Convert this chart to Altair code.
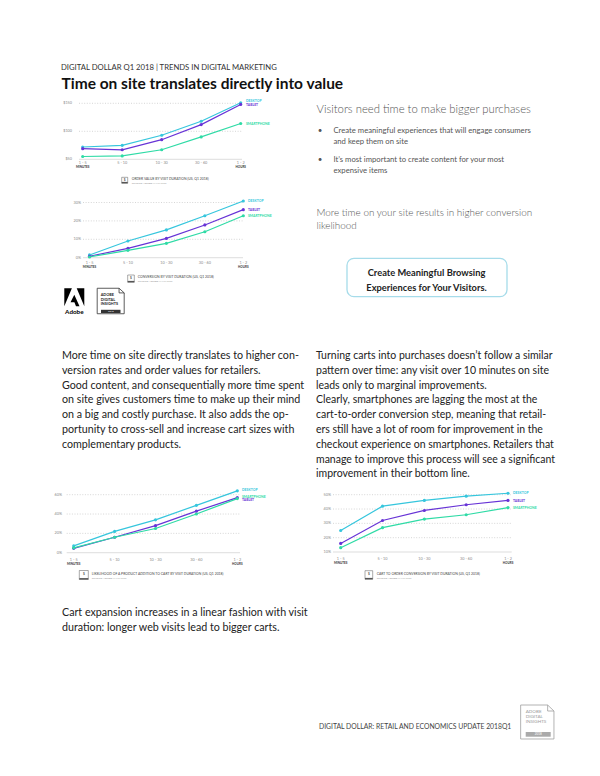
import altair as alt
import pandas as pd

FONT = "Lato"
M = 8  # page margin


def px(v):
    return v - M


# ---------------- data ----------------
durations = ["1 - 5", "5 - 10", "10 - 30", "30 - 60", "1 - 2"]
duration_units = ["MINUTES", "HOURS"]
devices = ["DESKTOP", "TABLET", "SMARTPHONE"]
device_colors = ["#36c6dd", "#6733d6", "#2fdba6"]

order_value_desktop = [72, 75, 93, 118, 151]
order_value_tablet = [69, 67, 85, 112, 148]
order_value_smartphone = [55, 56, 67, 90, 114]
order_value_ticks = [50, 100, 150]
order_value_tick_labels = ["$50", "$100", "$150"]

conversion_desktop = [1.5, 9.1, 15.1, 22.8, 30.8]
conversion_tablet = [0.8, 5.1, 10.5, 17.8, 26.1]
conversion_smartphone = [0.4, 4.0, 7.8, 14.1, 22.8]
conversion_ticks = [0, 10, 20, 30]
conversion_tick_labels = ["0%", "10%", "20%", "30%"]

add_to_cart_desktop = [7, 22, 34, 49, 64]
add_to_cart_tablet = [4.5, 16, 28, 43, 57]
add_to_cart_smartphone = [5, 16, 25, 40, 56]
add_to_cart_ticks = [0, 20, 40, 60]
add_to_cart_tick_labels = ["0%", "20%", "40%", "60%"]

cart_to_order_desktop = [25, 42, 46, 49, 51]
cart_to_order_tablet = [16, 32, 39, 43, 46]
cart_to_order_smartphone = [13, 27, 33, 36, 41]
cart_to_order_ticks = [10, 20, 30, 40, 50]
cart_to_order_tick_labels = ["10%", "20%", "30%", "40%", "50%"]

one = pd.DataFrame({"k": [0]})


# ---------------- helpers ----------------
def txt(s, x, y, size, color="#222222", weight="normal", align="left",
        baseline="alphabetic", lh=None):
    kw = dict(align=align, baseline=baseline, fontSize=size, color=color,
              fontWeight=weight, font=FONT)
    if "\n" in s:
        kw["lineBreak"] = "\n"
        kw["lineHeight"] = lh
    return alt.Chart(one).mark_text(**kw).encode(
        x=alt.value(px(x)), y=alt.value(px(y)), text=alt.value(s))


def box(x0, y0, x1, y1, fill=None, stroke=None, sw=1.0, r=0):
    kw = {}
    if fill is not None:
        kw["fill"] = fill
    else:
        kw["fillOpacity"] = 0
    if stroke is not None:
        kw["stroke"] = stroke
        kw["strokeWidth"] = sw
    if r:
        kw["cornerRadius"] = r
    return alt.Chart(one).mark_rect(**kw).encode(
        x=alt.value(px(x0)), x2=alt.value(px(x1)),
        y=alt.value(px(y0)), y2=alt.value(px(y1)))


def shape(path, cx, cy, size, color, filled=True, sw=1.0):
    return alt.Chart(one).mark_point(
        shape=path, size=size, filled=filled, color=color, opacity=1,
        strokeWidth=sw).encode(x=alt.value(px(cx)), y=alt.value(px(cy)))


def caption(title, icon, tx, ty):
    x0, y0, x1, y1 = icon
    return [
        box(x0, y0, x1, y1, fill="white", stroke="#555555", sw=0.5),
        box(x0, y1 - 1.4, x1, y1, fill="#555555"),
        txt("$", (x0 + x1) / 2, (y0 + y1) / 2 - 0.6, 3.2, color="#555555",
            weight="bold", align="center", baseline="middle"),
        txt(title, tx, ty, 3.4, color="#444444", baseline="middle"),
        txt("SOURCE: ADOBE ANALYTICS", tx, ty + 3.6, 2.6, color="#9a9a9a",
            baseline="middle"),
    ]


def mini_chart(series, ticks, tick_labels, xr, ydom, yr, grid_x, tick_x,
               xlab_y, leg_x, leg_y, cap_title, icon, cap_x, cap_y):
    rows = [{"device": d, "duration": t, "value": v}
            for d, vals in zip(devices, series)
            for t, v in zip(durations, vals)]
    df = pd.DataFrame(rows)
    X = alt.X("duration:O", sort=durations, axis=None,
              scale=alt.Scale(range=[px(xr[0]), px(xr[1])], padding=0))
    Y = alt.Y("value:Q", axis=None,
              scale=alt.Scale(domain=ydom, range=[px(yr[0]), px(yr[1])],
                              nice=False, zero=False))
    tick_df = pd.DataFrame({"value": ticks, "label": tick_labels})
    base = alt.Chart(tick_df.iloc[:1]).mark_rule(
        color="#cfcfcf", strokeWidth=0.7).encode(
        y=Y, x=alt.value(px(grid_x[0])), x2=alt.value(px(grid_x[1])))
    grid = alt.Chart(tick_df.iloc[1:]).mark_rule(
        color="#c4c4c4", strokeWidth=0.7, strokeDash=[1, 1.6]).encode(
        y=Y, x=alt.value(px(grid_x[0])), x2=alt.value(px(grid_x[1])))
    ylabels = alt.Chart(tick_df).mark_text(
        align="right", baseline="middle", fontSize=3.8, color="#8a8a8a",
        font=FONT).encode(y=Y, x=alt.value(px(tick_x)), text="label:N")
    xl = alt.Chart(pd.DataFrame({"duration": durations})).mark_text(
        fontSize=3.8, color="#8a8a8a", baseline="middle", font=FONT).encode(
        x=X, y=alt.value(px(xlab_y)), text="duration:N")
    sub = alt.Chart(pd.DataFrame({"duration": [durations[0], durations[-1]],
                                  "unit": duration_units})).mark_text(
        fontSize=3.0, color="#333333", fontWeight="bold", baseline="middle",
        font=FONT).encode(x=X, y=alt.value(px(xlab_y + 4)), text="unit:N")
    lines = alt.Chart(df).mark_line(
        strokeWidth=1.2,
        point=alt.OverlayMarkDef(filled=True, size=10, opacity=1)).encode(
        x=X, y=Y,
        color=alt.Color("device:N", legend=None,
                        scale=alt.Scale(domain=devices, range=device_colors)))
    legend = [txt(d, leg_x, ly, 3.4, color=c, weight="bold", baseline="middle")
              for d, ly, c in zip(devices, leg_y, device_colors)]
    return alt.layer(base, grid, ylabels, xl, sub, lines, *legend,
                     *caption(cap_title, icon, cap_x, cap_y))


# ---------------- mini charts ----------------
c1 = mini_chart(
    [order_value_desktop, order_value_tablet, order_value_smartphone],
    order_value_ticks, order_value_tick_labels,
    xr=(82.7, 240.7), ydom=[50, 150], yr=(159.3, 103.3),
    grid_x=(79, 242), tick_x=72, xlab_y=163.4, leg_x=246,
    leg_y=[101.3, 105.2, 124], cap_title="ORDER VALUE BY VISIT DURATION (US, Q1 2018)",
    icon=(121.7, 177.3, 127.7, 183.3), cap_x=131.7, cap_y=178.6)

c2 = mini_chart(
    [conversion_desktop, conversion_tablet, conversion_smartphone],
    conversion_ticks, conversion_tick_labels,
    xr=(89.5, 243.3), ydom=[0, 30], yr=(257.7, 202.5),
    grid_x=(83, 243), tick_x=81, xlab_y=263.3, leg_x=248,
    leg_y=[201, 210, 215.7], cap_title="CONVERSION BY VISIT DURATION (US, Q1 2018)",
    icon=(127.7, 275, 134.3, 282.3), cap_x=137.7, cap_y=277.2)

c3 = mini_chart(
    [add_to_cart_desktop, add_to_cart_tablet, add_to_cart_smartphone],
    add_to_cart_ticks, add_to_cart_tick_labels,
    xr=(73.7, 237.3), ydom=[0, 60], yr=(552.7, 494.7),
    grid_x=(66.7, 240), tick_x=62, xlab_y=560, leg_x=242,
    leg_y=[489.7, 500.3, 496.7],
    cap_title="LIKELIHOOD OF A PRODUCT ADDITION TO CART BY VISIT DURATION (US, Q1 2018)",
    icon=(79.3, 570.5, 88.3, 579.5), cap_x=91.7, cap_y=574)

c4 = mini_chart(
    [cart_to_order_desktop, cart_to_order_tablet, cart_to_order_smartphone],
    cart_to_order_ticks, cart_to_order_tick_labels,
    xr=(340.7, 508), ydom=[10, 50], yr=(552, 494.7),
    grid_x=(333, 511.7), tick_x=331, xlab_y=559, leg_x=513,
    leg_y=[493.3, 500.7, 508],
    cap_title="CART TO ORDER CONVERSION BY VISIT DURATION (US, Q1 2018)",
    icon=(365, 570.7, 372.7, 579.3), cap_x=376.7, cap_y=574)

# ---------------- page text & decorations ----------------
left_para = ("More time on site directly translates to higher con-\n"
             "version rates and order values for retailers.\n"
             "Good content, and consequentially more time spent\n"
             "on site gives customers time to make up their mind\n"
             "on a big and costly purchase. It also adds the op-\n"
             "portunity to cross-sell and increase cart sizes with\n"
             "complementary products.")
right_para = ("Turning carts into purchases doesn\u2019t follow a similar\n"
              "pattern over time: any visit over 10 minutes on site\n"
              "leads only to marginal improvements.\n"
              "Clearly, smartphones are lagging the most at the\n"
              "cart-to-order conversion step, meaning that retail-\n"
              "ers still have a lot of room for improvement in the\n"
              "checkout experience on smartphones. Retailers that\n"
              "manage to improve this process will see a significant\n"
              "improvement in their bottom line.")
bottom_para = ("Cart expansion increases in a linear fashion with visit\n"
               "duration: longer web visits lead to bigger carts.")

adobe_path = ("M-1,-0.9L-0.24,-0.9L-1,0.9Z M0.24,-0.9L1,-0.9L1,0.9Z "
              "M0,-0.25L0.52,0.9L0.17,0.9L0.01,0.5L-0.38,0.5Z")
badge_path = "M-1,-0.944L0.62,-0.944L1,-0.6L1,0.944L-1,0.944Z M0.62,-0.944L0.62,-0.6L1,-0.6"
badge2_path = "M-1,-1.02L0.62,-1.02L1,-0.66L1,1.02L-1,1.02Z M0.62,-1.02L0.62,-0.66L1,-0.66"

page = [
    txt("DIGITAL DOLLAR Q1 2018 | TRENDS IN DIGITAL MARKETING", 61, 69.5, 7.7,
        color="#333333"),
    txt("Time on site translates directly into value", 61.5, 88.5, 15.5,
        color="#111111", weight="bold"),
    txt("Visitors need time to make bigger purchases", 316.5, 113, 11.3,
        color="#555555", weight=300),
    txt("\u2022", 320, 132.8, 8, color="#555555", align="center"),
    txt("\u2022", 320, 162.1, 8, color="#555555", align="center"),
    txt("Create meaningful experiences that will engage consumers\nand keep them on site",
        333.5, 132.8, 7.7, color="#555555", lh=11.4),
    txt("It\u2019s most important to create content for your most\nexpensive items",
        333.5, 162.1, 7.7, color="#555555", lh=11.4),
    txt("More time on your site results in higher conversion\nlikelihood",
        316.5, 215.8, 9.9, color="#555555", weight=300, lh=13.2),
    box(347, 258.3, 507, 296.7, fill="white", stroke="#a6dcea", sw=1.3, r=7),
    txt("Create Meaningful Browsing\nExperiences for Your Visitors.", 426.5,
        276, 9.3, color="#222222", weight="bold", align="center", lh=15),
    # Adobe logo
    shape(adobe_path, 74.3, 297.2, 400, "#000000"),
    txt("Adobe", 74.3, 314.3, 6.3, color="#000000", weight="bold", align="center"),
    # Adobe Digital Insights badge
    shape(badge_path, 110.7, 301, 729, "#333333", filled=False, sw=0.8),
    txt("ADOBE\nDIGITAL\nINSIGHTS", 100.7, 296.4, 3.8, color="#222222",
        weight="bold", lh=4.3),
    box(101, 309.8, 120.5, 313, fill="#333333"),
    txt("2018", 110.8, 311.5, 2.4, color="white", align="center", baseline="middle"),
    # paragraphs
    txt(left_para, 62, 359, 10.7, color="#222222", lh=14.8),
    txt(right_para, 316, 359, 10.5, color="#222222", lh=14.8),
    txt(bottom_para, 62, 615.6, 10.7, color="#222222", lh=15.6),
    # footer
    txt("DIGITAL DOLLAR: RETAIL AND ECONOMICS UPDATE  2018Q1", 319, 728.7, 6.8,
        color="#444444"),
    shape(badge2_path, 537.3, 722, 1110, "#a0a0a0", filled=False, sw=0.8),
    txt("ADOBE\nDIGITAL\nINSIGHTS", 525.7, 712.8, 4.6, color="#999999", lh=4.9),
    box(525.7, 732, 550.7, 736.7, fill="#aaaaaa"),
    txt("2018", 538.2, 734.4, 3.0, color="white", align="center", baseline="middle"),
]

chart = alt.layer(*page, c1, c2, c3, c4).resolve_scale(
    x="independent", y="independent"
).properties(width=584, height=760, padding=0).configure_view(stroke=None)

chart.save("out.html", embed_options={"renderer": "svg", "actions": False})
